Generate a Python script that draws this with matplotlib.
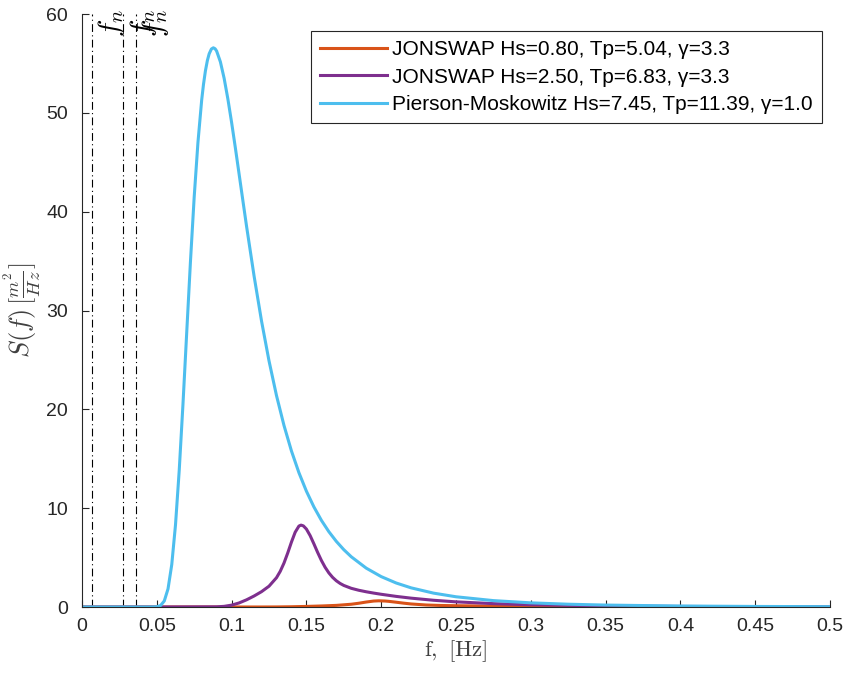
import numpy as np
import matplotlib.pyplot as plt

# spectra (frequency in Hz, density in m^2/Hz)
f_js1 = [0.0, 0.12, 0.13, 0.14, 0.15, 0.16, 0.17, 0.18, 0.185, 0.19, 0.195, 0.1984,
         0.2025, 0.205, 0.21, 0.215, 0.22, 0.23, 0.24, 0.25, 0.27, 0.30, 0.35, 0.40, 0.45, 0.50]
S_js1 = [0.0, 0.0007, 0.0062, 0.0244, 0.0586, 0.1037, 0.1634, 0.2796, 0.3803, 0.5026, 0.6025, 0.6261,
         0.6046, 0.5729, 0.4844, 0.3888, 0.3071, 0.2032, 0.1544, 0.1294, 0.0986, 0.0660, 0.0341, 0.0184, 0.0105, 0.0063]

f_js2 = [0.0, 0.05, 0.09, 0.095, 0.10, 0.105, 0.11, 0.115, 0.12, 0.125, 0.13, 0.1325, 0.135, 0.1375,
         0.14, 0.1425, 0.145, 0.1464, 0.148, 0.15, 0.1525, 0.155, 0.1575, 0.16, 0.1625, 0.165, 0.1675,
         0.17, 0.1725, 0.175, 0.18, 0.185, 0.19, 0.195, 0.20, 0.21, 0.22, 0.235, 0.25, 0.275, 0.30,
         0.35, 0.40, 0.45, 0.50]
S_js2 = [0.0, 0.0, 0.016, 0.066, 0.189, 0.410, 0.727, 1.111, 1.551, 2.104, 2.962, 3.606, 4.439, 5.457,
         6.566, 7.567, 8.188, 8.287, 8.205, 7.887, 7.225, 6.394, 5.526, 4.718, 4.021, 3.452, 3.002,
         2.654, 2.387, 2.181, 1.891, 1.694, 1.540, 1.407, 1.287, 1.074, 0.895, 0.681, 0.521, 0.339, 0.226,
         0.108, 0.0563, 0.0315, 0.0187]

f_pm = [0.0, 0.045, 0.05, 0.0525, 0.055, 0.0575, 0.06, 0.0625, 0.065, 0.0675, 0.07, 0.0725, 0.075,
        0.0775, 0.08, 0.0812, 0.0825, 0.0838, 0.085, 0.0865, 0.0878, 0.089, 0.09, 0.0925, 0.095,
        0.0975, 0.10, 0.1025, 0.105, 0.1075, 0.11, 0.115, 0.12, 0.125, 0.13, 0.135, 0.14, 0.145,
        0.15, 0.155, 0.16, 0.165, 0.17, 0.175, 0.18, 0.19, 0.20, 0.21, 0.22, 0.235, 0.25, 0.275,
        0.30, 0.325, 0.35, 0.40, 0.45, 0.50]
S_pm = [0.0, 0.0, 0.023, 0.147, 0.610, 1.833, 4.294, 8.31, 13.85, 20.54, 27.78, 34.96, 41.50,
        47.00, 51.29, 52.87, 54.25, 55.29, 55.97, 56.46, 56.58, 56.48, 56.25, 55.16, 53.50,
        51.41, 49.03, 46.47, 43.82, 41.16, 38.52, 33.51, 28.94, 24.91, 21.40, 18.38, 15.79, 13.59,
        11.72, 10.13, 8.774, 7.622, 6.640, 5.800, 5.081, 3.931, 3.075, 2.429, 1.937, 1.403, 1.035, 0.647,
        0.420, 0.282, 0.195, 0.100, 0.056, 0.033]

labels = ['JONSWAP Hs=0.80, Tp=5.04, γ=3.3',
          'JONSWAP Hs=2.50, Tp=6.83, γ=3.3',
          'Pierson-Moskowitz Hs=7.45, Tp=11.39, γ=1.0']
colors = ['#D95319', '#7E2F8E', '#4DBEEE']

# natural frequency markers
f_marks = [0.0065, 0.0277, 0.0359]
mark_labels = ['$f_n$', '$f_n$', '$f_n$']

xticks = [0, 0.05, 0.1, 0.15, 0.2, 0.25, 0.3, 0.35, 0.4, 0.45, 0.5]
xticklabels = ['0', '0.05', '0.1', '0.15', '0.2', '0.25', '0.3', '0.35', '0.4', '0.45', '0.5']
yticks = [0, 10, 20, 30, 40, 50, 60]

plt.rcParams['font.family'] = ['Liberation Sans', 'DejaVu Sans']
plt.rcParams['mathtext.fontset'] = 'cm'

fig = plt.figure(figsize=(8.51, 6.75), dpi=100)
ax = fig.add_axes([82 / 851, 1 - 607 / 675, 748 / 851, 593 / 675])

for fx, lab in zip(f_marks, mark_labels):
    ax.axvline(fx, color='black', lw=0.8, linestyle=(0, (7, 3, 1, 3)))
    ax.text(fx + 0.0135, 60.5, lab, rotation=90, ha='center', va='top',
            fontsize=21, clip_on=False)

ax.plot(f_js1, S_js1, color=colors[0], lw=2.2, label=labels[0])
ax.plot(f_js2, S_js2, color=colors[1], lw=2.2, label=labels[1])
ax.plot(f_pm, S_pm, color=colors[2], lw=2.2, label=labels[2])

ax.set_xlim(0, 0.5)
ax.set_ylim(0, 60)
ax.set_xticks(xticks)
ax.set_xticklabels(xticklabels)
ax.set_yticks(yticks)
ax.tick_params(direction='in', length=5, width=0.8, labelsize=14, colors='#262626')
ax.tick_params(axis='x', pad=8)
ax.tick_params(axis='y', pad=10)
for side in ['top', 'right']:
    ax.spines[side].set_visible(False)
for side in ['left', 'bottom']:
    ax.spines[side].set_color('#262626')
    ax.spines[side].set_linewidth(0.8)

ax.set_xlabel(r'$\mathrm{f,\ [Hz]}$', fontsize=16.5, color='#404040', labelpad=2)
ax.set_ylabel(r'$S(f)\,[\frac{m^2}{Hz}]$', fontsize=19, color='#404040', labelpad=2)

leg = ax.legend(loc='upper right', bbox_to_anchor=(0.9893, 0.9713), borderaxespad=0,
                fontsize=15, handlelength=3.2, handletextpad=0.25, labelspacing=0.4,
                borderpad=0.45, fancybox=False, framealpha=1)
leg.get_frame().set_edgecolor('#262626')
leg.get_frame().set_linewidth(0.8)

fig.savefig('out.png', dpi=100)
